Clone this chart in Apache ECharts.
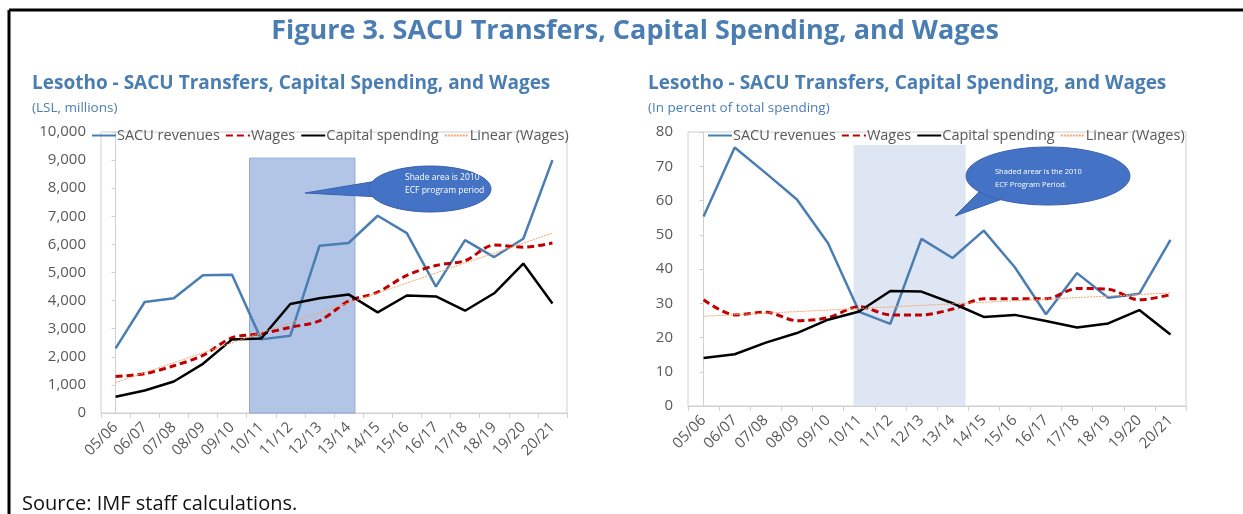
<!DOCTYPE html>
<html>
<head>
<meta charset="utf-8">
<script src="https://cdn.jsdelivr.net/npm/echarts@6/dist/echarts.min.js"></script>
<style>
  html, body { margin: 0; padding: 0; background: #fff; }
  #chart { width: 1243px; height: 514px; }
</style>
</head>
<body>
<div id="chart"></div>
<script>
// fiscal years
const years = ['05/06', '06/07', '07/08', '08/09', '09/10', '10/11', '11/12', '12/13',
  '13/14', '14/15', '15/16', '16/17', '17/18', '18/19', '19/20', '20/21'];

// left panel, LSL millions
const sacuLsl = [2300, 3950, 4080, 4900, 4920, 2620, 2750, 5950, 6050, 7020, 6400, 4500, 6150, 5550, 6200, 9000];
const wagesLsl = [1300, 1400, 1680, 2050, 2680, 2820, 3050, 3280, 3980, 4300, 4900, 5250, 5420, 5980, 5900, 6050];
const capitalLsl = [580, 800, 1120, 1750, 2620, 2650, 3880, 4080, 4220, 3580, 4180, 4150, 3640, 4260, 5320, 3900];
const trendLslEnds = [1080, 6400]; // linear (wages), first and last year

// right panel, percent of total spending
const sacuPct = [55.3, 75.5, 68, 60.3, 47.5, 27.5, 24, 48.8, 43.2, 51.2, 40.5, 26.8, 38.8, 31.6, 32.8, 48.5];
const wagesPct = [31, 26.6, 27.4, 24.9, 25.8, 29, 26.6, 26.6, 28.3, 31.3, 31.3, 31.3, 34.3, 34.1, 31, 32.5];
const capitalPct = [14, 15.1, 18.5, 21.3, 25.2, 27.6, 33.6, 33.4, 30, 26, 26.6, 24.8, 22.9, 24.1, 28, 20.9];
const trendPctEnds = [26.2, 33];

// ECF programme shading: [from index, to index, top value]
const shadeLsl = [4.6, 8.22, 9070];
const shadePct = [4.82, 8.42, 76.2];

const blue = '#4a7eb3';
const red = '#c00000';
const trendColor = '#f4a46a';
const grey = '#595959';
const font = 'Open Sans';

function trendLine(ends) {
  const d = years.map(() => null);
  d[0] = ends[0];
  d[d.length - 1] = ends[1];
  return d;
}

function panelSeries(idx, sacu, wages, capital, trendEnds, shade, shadeStyle) {
  const xCat = idx * 2, xVal = idx * 2 + 1;
  return [
    {
      type: 'line', xAxisIndex: xVal, yAxisIndex: idx, data: [], z: 1, silent: true,
      markArea: {
        silent: true,
        itemStyle: shadeStyle,
        data: [[{ coord: [shade[0], 0] }, { coord: [shade[1], shade[2]] }]]
      }
    },
    {
      name: 'SACU revenues', type: 'line', xAxisIndex: xCat, yAxisIndex: idx, data: sacu,
      symbol: 'none', lineStyle: { color: blue, width: 2.5 }, itemStyle: { color: blue }
    },
    {
      name: 'Wages', type: 'line', xAxisIndex: xCat, yAxisIndex: idx, data: wages, smooth: 0.3,
      symbol: 'none', lineStyle: { color: red, width: 3, type: [7, 4] }, itemStyle: { color: red }
    },
    {
      name: 'Capital spending', type: 'line', xAxisIndex: xCat, yAxisIndex: idx, data: capital,
      symbol: 'none', lineStyle: { color: '#000', width: 2.5 }, itemStyle: { color: '#000' }
    },
    {
      name: 'Linear (Wages)', type: 'line', xAxisIndex: xCat, yAxisIndex: idx, data: trendLine(trendEnds),
      connectNulls: true, symbol: 'none', lineStyle: { color: trendColor, width: 1, type: [2, 1] },
      itemStyle: { color: trendColor }, z: 3
    }
  ];
}

function catAxis(grid) {
  return {
    type: 'category', gridIndex: grid, data: years,
    axisLine: { lineStyle: { color: '#d0d0d0' } },
    axisTick: { show: true, length: 5, lineStyle: { color: '#d0d0d0' } },
    axisLabel: { color: grey, fontFamily: font, fontSize: 15, rotate: 45, margin: 12 }
  };
}
function valXAxis(grid) {
  return { type: 'value', gridIndex: grid, min: -0.5, max: 15.5, show: false };
}
function yAxis(grid, max, step, fmt) {
  return {
    type: 'value', gridIndex: grid, min: 0, max: max, interval: step,
    axisLine: { show: true, lineStyle: { color: '#d0d0d0' } },
    axisTick: { show: true, length: 4, lineStyle: { color: '#d0d0d0' } },
    splitLine: { show: false },
    axisLabel: { color: grey, fontFamily: font, fontSize: 15, margin: 15, formatter: fmt }
  };
}

function legend(left) {
  return {
    left: left, top: 123, itemWidth: 24, itemHeight: 10, itemGap: 5,
    data: ['SACU revenues', 'Wages', 'Capital spending', 'Linear (Wages)'],
    itemStyle: { opacity: 0 },
    textStyle: { color: grey, fontFamily: font, fontSize: 14.5, padding: [0, 0, 0, -4] }
  };
}

function callout(cx, cy, rx, ry, tail, lines, tx, ty, size) {
  return [
    {
      type: 'polygon', z: 50,
      shape: { points: tail },
      style: { fill: '#4472c4', stroke: '#3a63ad', lineWidth: 1 }
    },
    {
      type: 'ellipse', z: 51,
      shape: { cx: cx, cy: cy, rx: rx, ry: ry },
      style: { fill: '#4472c4', stroke: '#3a63ad', lineWidth: 1 }
    },
    {
      type: 'text', z: 52, x: tx, y: ty,
      style: { text: lines, fill: '#fff', fontFamily: font, fontSize: size, lineHeight: 13 }
    }
  ];
}

const chart = echarts.init(document.getElementById('chart'), null, { renderer: 'canvas' });

chart.setOption({
  animation: false,
  backgroundColor: '#fff',
  title: [
    {
      text: 'Figure 3. SACU Transfers, Capital Spending, and Wages',
      left: 630, top: 13, textAlign: 'center',
      textStyle: { color: blue, fontFamily: font, fontWeight: 'bold', fontSize: 27 }
    },
    {
      text: 'Lesotho - SACU Transfers, Capital Spending, and Wages', left: 27, top: 69,
      textStyle: { color: blue, fontFamily: font, fontWeight: 'bold', fontSize: 19 }
    },
    {
      text: '(LSL, millions)', left: 27, top: 96,
      textStyle: { color: blue, fontFamily: font, fontWeight: 'normal', fontSize: 13.5 }
    },
    {
      text: 'Lesotho - SACU Transfers, Capital Spending, and Wages', left: 643, top: 69,
      textStyle: { color: blue, fontFamily: font, fontWeight: 'bold', fontSize: 19 }
    },
    {
      text: '(In percent of total spending)', left: 643, top: 96,
      textStyle: { color: blue, fontFamily: font, fontWeight: 'normal', fontSize: 13.5 }
    },
    {
      text: 'Source: IMF staff calculations.', left: 17, top: 489,
      textStyle: { color: '#111', fontFamily: font, fontWeight: 'normal', fontSize: 20 }
    }
  ],
  legend: [legend(86), legend(702)],
  grid: [
    { left: 101, top: 132, width: 466, height: 281, show: true, borderColor: '#d0d0d0', borderWidth: 1 },
    { left: 688, top: 132, width: 498, height: 274, show: true, borderColor: '#d0d0d0', borderWidth: 1 }
  ],
  xAxis: [catAxis(0), valXAxis(0), catAxis(1), valXAxis(1)],
  yAxis: [
    yAxis(0, 10000, 1000, v => v.toLocaleString('en-US')),
    yAxis(1, 80, 10, v => String(v))
  ],
  series: [
    ...panelSeries(0, sacuLsl, wagesLsl, capitalLsl, trendLslEnds, shadeLsl,
      { color: 'rgba(143,170,220,0.68)', borderColor: '#8faadc', borderWidth: 1 }),
    ...panelSeries(1, sacuPct, wagesPct, capitalPct, trendPctEnds, shadePct,
      { color: 'rgba(218,227,243,0.9)' })
  ],
  graphic: [
    // frame
    { type: 'line', shape: { x1: 9, y1: 10, x2: 1243, y2: 10 }, style: { stroke: '#000', lineWidth: 3 } },
    { type: 'line', shape: { x1: 9, y1: 10, x2: 9, y2: 514 }, style: { stroke: '#000', lineWidth: 3 } },
    ...callout(430, 189, 61, 23, [[305, 193], [377, 181], [380, 197]],
      'Shade area is 2010\nECF program period', 405, 171, 8.5),
    ...callout(1048, 176, 82, 29, [[955, 216], [985, 186], [1005, 198]],
      'Shaded arear is the 2010\nECF Program Period.', 995, 165, 7.5)
  ]
});
</script>
</body>
</html>
